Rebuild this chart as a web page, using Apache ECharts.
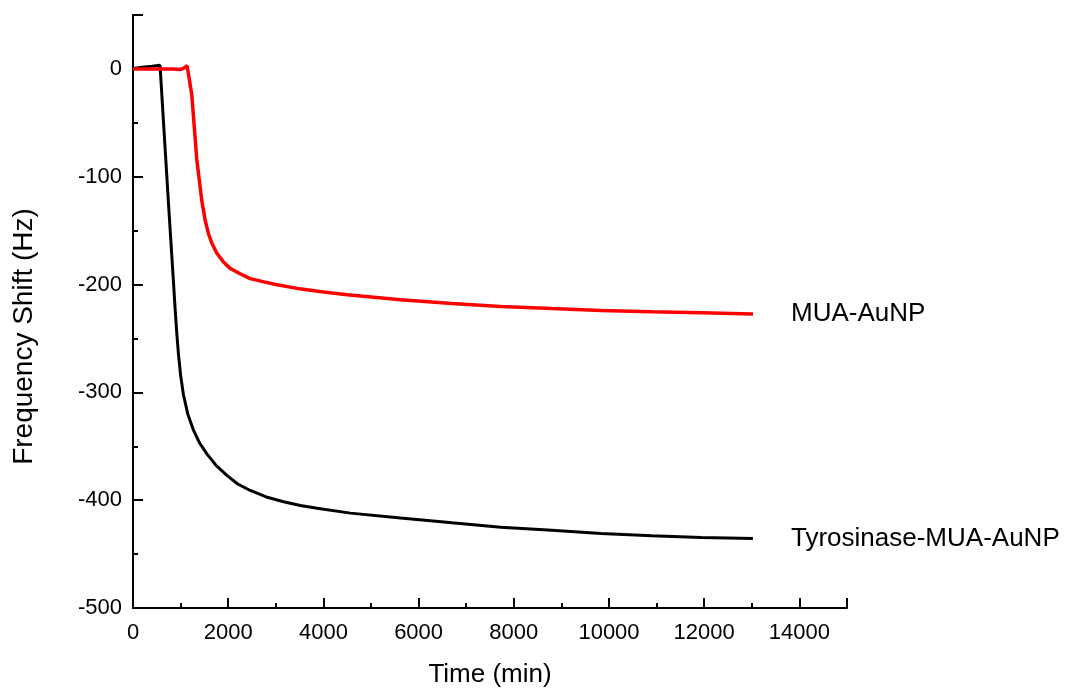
<!DOCTYPE html>
<html>
<head>
<meta charset="utf-8">
<title>Frequency Shift</title>
<script src="https://cdn.jsdelivr.net/npm/echarts@6/dist/echarts.min.js"></script>
<style>
  html, body { margin: 0; padding: 0; background: #fff; }
  #chart { width: 1069px; height: 695px; }
</style>
</head>
<body>
<div id="chart"></div>
<script>
// Tyrosinase-MUA-AuNP (black)
const tyrTime = [0, 200, 400, 568, 650, 750, 848, 884, 920, 954, 1000, 1059, 1150, 1270, 1400, 1551, 1750, 1972, 2200, 2463, 2800, 3165, 3516, 3867, 4568, 5621, 6700, 7726, 8800, 9832, 10900, 11937, 13025];
const tyrShift = [0.5, 1.5, 2.5, 3.4, -56, -128, -196, -222, -245, -264, -284, -302, -320, -335, -347, -357, -368, -377, -385, -391, -397, -401.5, -405, -407.5, -412, -416.5, -421, -425, -428, -431, -433, -434.5, -435.5];

// MUA-AuNP (red)
const muaTime = [0, 300, 600, 850, 1000, 1060, 1100, 1137, 1235, 1340, 1444, 1515, 1585, 1660, 1762, 1900, 2042, 2250, 2463, 2750, 3000, 3500, 4000, 4500, 5621, 6700, 7726, 8800, 9832, 10900, 11937, 13025];
const muaShift = [0, 0, 0, 0, -0.5, 0.5, 2, 3, -24, -84, -121.7, -140, -152.7, -162, -171, -179, -185, -190, -194.5, -197.5, -200, -204, -207, -209.5, -214, -217.5, -220.3, -222.3, -224, -225.2, -226.1, -227.4];

const seriesNames = ['Tyrosinase-MUA-AuNP', 'MUA-AuNP'];

const pairs = (xs, ys) => xs.map((x, i) => [x, ys[i]]);

const font = "'Liberation Sans', Arial, sans-serif";

const chart = echarts.init(document.getElementById('chart'));

chart.setOption({
  animation: false,
  backgroundColor: '#fff',
  grid: { left: 133, right: 222, top: 15, bottom: 87, outerBoundsMode: 'none' },
  xAxis: {
    type: 'value',
    min: 0,
    max: 15000,
    interval: 2000,
    splitLine: { show: false },
    axisLine: { show: true, onZero: false, lineStyle: { color: '#000', width: 2 } },
    axisTick: { show: true, inside: true, length: 10, lineStyle: { color: '#000', width: 2 } },
    minorTick: { show: true, splitNumber: 2, length: 5, lineStyle: { color: '#000', width: 2 } },
    name: 'Time (min)',
    nameLocation: 'middle',
    nameGap: 54,
    nameTextStyle: { color: '#000', fontSize: 26, fontFamily: font },
    axisLabel: {
      color: '#000', fontSize: 22, fontFamily: font, margin: 14, showMaxLabel: false,
      formatter: v => String(v)
    }
  },
  yAxis: {
    type: 'value',
    min: -500,
    max: 50,
    interval: 100,
    splitLine: { show: false },
    axisLine: { show: true, onZero: false, lineStyle: { color: '#000', width: 2 } },
    axisTick: { show: true, inside: true, length: 10, lineStyle: { color: '#000', width: 2 } },
    minorTick: { show: true, splitNumber: 2, length: 5, lineStyle: { color: '#000', width: 2 } },
    name: 'Frequency Shift (Hz)',
    nameLocation: 'middle',
    nameGap: 95,
    nameTextStyle: { color: '#000', fontSize: 28, fontFamily: font, padding: [0, 50, 0, 0] },
    axisLabel: {
      color: '#000', fontSize: 22, fontFamily: font, margin: 11, showMaxLabel: false,
      formatter: v => String(v)
    }
  },
  series: [
    {
      name: seriesNames[0],
      type: 'line',
      showSymbol: false,
      data: pairs(tyrTime, tyrShift),
      lineStyle: { color: '#000', width: 3 },
      itemStyle: { color: '#000' },
      endLabel: { show: true, formatter: '{a}', color: '#000', fontSize: 26, fontFamily: font, distance: 38 }
    },
    {
      name: seriesNames[1],
      type: 'line',
      showSymbol: false,
      data: pairs(muaTime, muaShift),
      lineStyle: { color: '#ff0000', width: 3.5 },
      itemStyle: { color: '#ff0000' },
      endLabel: { show: true, formatter: '{a}', color: '#000', fontSize: 26, fontFamily: font, distance: 38 }
    }
  ]
});
</script>
</body>
</html>
